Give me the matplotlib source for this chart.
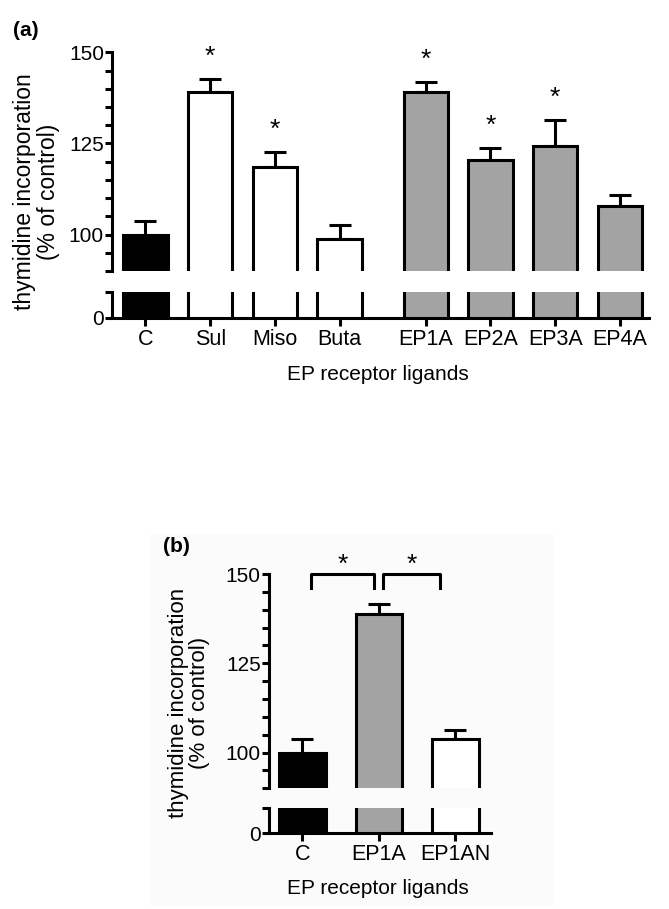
import numpy as np
import matplotlib
matplotlib.use("Agg")
import matplotlib.pyplot as plt
from matplotlib.patches import Rectangle

plt.rcParams['font.family'] = ['Liberation Sans', 'DejaVu Sans']

# panel (a)
labels_a = ['C', 'Sul', 'Miso', 'Buta', 'EP1A', 'EP2A', 'EP3A', 'EP4A']
pos_a = [0, 1, 2, 3, 4.33, 5.33, 6.33, 7.33]
vals_a = [100, 139.1, 118.4, 98.7, 139.1, 120.4, 124.3, 107.9]
errs_a = [3.8, 3.6, 4.3, 3.9, 2.7, 3.3, 7.0, 3.0]
cols_a = ['black', 'white', 'white', 'white', '#a3a3a3', '#a3a3a3', '#a3a3a3', '#a3a3a3']
star_a = [False, True, True, False, True, True, True, False]

# panel (b)
labels_b = ['C', 'EP1A', 'EP1AN']
pos_b = [0, 1, 2]
vals_b = [100, 138.7, 103.7]
errs_b = [3.7, 3.0, 2.5]
cols_b = ['black', '#a3a3a3', 'white']

W, H = 669, 909
fig = plt.figure(figsize=(W / 100, H / 100), dpi=100)


def fx(px):
    return px / W


def fy(py):
    return 1 - py / H


# faint background behind panel (b)
fig.patches.append(Rectangle((fx(150), fy(905)), fx(553) - fx(150), fy(535) - fy(905),
                             transform=fig.transFigure, color='#fbfbfb', zorder=-10))


def draw_panel(x0, x1, up_top, up_bot, lo_top, lo_bot, pos, vals, errs, cols, labels, bw, xlim):
    ax_up = fig.add_axes([fx(x0), fy(up_bot), fx(x1) - fx(x0), fy(up_top) - fy(up_bot)])
    ax_lo = fig.add_axes([fx(x0), fy(lo_bot), fx(x1) - fx(x0), fy(lo_top) - fy(lo_bot)])
    for ax in (ax_up, ax_lo):
        ax.bar(pos, vals, width=bw, color=cols, edgecolor='black', linewidth=2.2, zorder=3)
        ax.set_xlim(*xlim)
        ax.patch.set_alpha(0)
        for s in ['top', 'right']:
            ax.spines[s].set_visible(False)
        ax.spines['left'].set_linewidth(2.2)
        ax.spines['bottom'].set_linewidth(2.2)
    ax_up.errorbar(pos, vals, yerr=[np.zeros(len(errs)), errs], fmt='none', ecolor='black',
                   elinewidth=2.2, capsize=8, capthick=2.2, zorder=2)
    ax_up.set_ylim(90, 150)
    ax_up.spines['bottom'].set_visible(False)
    ax_up.set_yticks([90, 100, 125, 150])
    ax_up.set_yticklabels(['', '100', '125', '150'], fontsize=15)
    ax_up.set_yticks(np.arange(95, 150, 5), minor=True)
    ax_up.tick_params(axis='y', which='both', direction='out', length=5, width=2.2, pad=1)
    ax_up.tick_params(axis='x', bottom=False, labelbottom=False)

    ax_lo.set_ylim(0, 7)
    ax_lo.set_yticks([0, 7])
    ax_lo.set_yticklabels(['0', ''], fontsize=15)
    ax_lo.tick_params(axis='y', direction='out', length=5, width=2.2, pad=1)
    ax_lo.set_xticks(pos)
    ax_lo.set_xticklabels(labels, fontsize=15.5)
    ax_lo.tick_params(axis='x', direction='out', length=6, width=2.2, pad=2)
    return ax_up, ax_lo


ax_a, ax_a2 = draw_panel(112.3, 649, 52.3, 271, 292.3, 317.7, pos_a, vals_a, errs_a, cols_a,
                         labels_a, 0.685, (-0.513, 7.78))
for p, v, e, s in zip(pos_a, vals_a, errs_a, star_a):
    if s:
        ax_a.annotate('*', (p, v + e), xytext=(0, 16), textcoords='offset points',
                      ha='center', va='center', fontsize=19, annotation_clip=False)

ax_b, ax_b2 = draw_panel(269, 490.7, 574, 788.3, 807.7, 833.3, pos_b, vals_b, errs_b, cols_b,
                         labels_b, 0.61, (-0.435, 2.46))
for xa, xb in [(0.115, 0.93), (1.05, 1.80)]:
    ax_b.plot([xa, xa, xb, xb], [146, 150, 150, 146], color='black', lw=2.2, clip_on=False)
    ax_b.text((xa + xb) / 2, 152.5, '*', ha='center', va='center', fontsize=19)

# labels
fig.text(fx(13), fy(31), '(a)', fontsize=15, fontweight='bold', va='center', ha='left')
fig.text(fx(163), fy(546), '(b)', fontsize=15, fontweight='bold', va='center', ha='left')
ylab = 'thymidine incorporation\n(% of control)'
fig.text(fx(36.5), fy(192), ylab, rotation=90, ha='center', va='center',
         multialignment='center', fontsize=16.5, linespacing=1.05)
fig.text(fx(189), fy(703), ylab, rotation=90, ha='center', va='center',
         multialignment='center', fontsize=16, linespacing=1.05)
fig.text(fx(378), fy(374), 'EP receptor ligands', ha='center', va='center', fontsize=15)
fig.text(fx(378), fy(889), 'EP receptor ligands', ha='center', va='center', fontsize=15)

fig.savefig('out.png', dpi=100)
